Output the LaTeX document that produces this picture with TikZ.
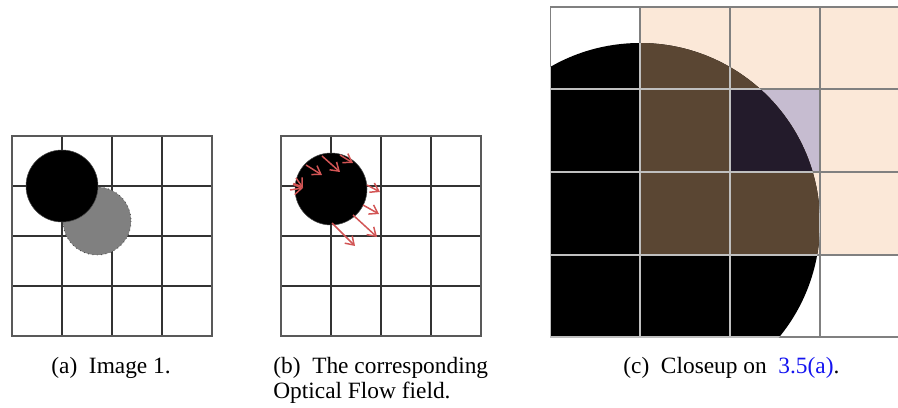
\documentclass[tikz,border=0pt]{standalone}
\usepackage{fontspec}
\setmainfont{Liberation Serif}
\usetikzlibrary{arrows.meta}

\definecolor{peach}{RGB}{251,232,216}
\definecolor{lavender}{RGB}{198,188,208}
\definecolor{umber}{RGB}{90,70,51}
\definecolor{plum}{RGB}{35,27,43}
\definecolor{flowred}{RGB}{210,85,85}
\definecolor{linkblue}{RGB}{20,20,240}

\tikzset{
  gridline/.style={draw=black!80, line width=0.8pt},
  frameline/.style={draw=black!65, line width=0.9pt},
  closeline/.style={draw=black!50, line width=0.6pt},
  closelight/.style={draw=black!25, line width=0.6pt},
  blob/.style={fill=black, draw=black!70, line width=0.3pt},
  shadow/.style={fill=black!50, draw=black!70, dotted, line width=0.5pt},
  flow/.style={-{Straight Barb[length=4.5pt,width=6pt]}, draw=flowred, line width=0.85pt},
  caption/.style={anchor=base west, align=left, inner sep=0pt,
                  font=\fontsize{13.3}{14}\selectfont},
}

\begin{document}
\begin{tikzpicture}[x=0.02cm, y=-0.02cm]
  \useasboundingbox (0,0) rectangle (898,408);

  % (a) image 1
  \foreach \k in {1,2,3} {
    \draw[gridline] (12+50*\k,136) -- (12+50*\k,336);
    \draw[gridline] (12,136+50*\k) -- (212,136+50*\k);
  }
  \draw[frameline] (12,136) rectangle (212,336);
  \fill[shadow] (97,221) circle (34);
  \fill[blob] (62,186) circle (36);

  % (b) flow field
  \foreach \k in {1,2,3} {
    \draw[gridline] (281+50*\k,136) -- (281+50*\k,336);
    \draw[gridline] (281,136+50*\k) -- (481,136+50*\k);
  }
  \draw[frameline] (281,136) rectangle (481,336);
  \fill[blob] (331,189) circle (36);
  \draw[flow] (306,165) -- (322,175);
  \draw[flow] (322,156) -- (340,172);
  \draw[flow] (340,155) -- (353,163);
  \draw[flow] (296,178) -- (303,188);
  \draw[flow] (290,190) -- (303,188);
  \draw[flow] (367,185) -- (380,192);
  \draw[flow] (363,205) -- (379,214);
  \draw[flow] (353,215) -- (377,237);
  \draw[flow] (332,223) -- (355,246);

  % (c) closeup
  \begin{scope}
    \clip (550,7) rectangle (898,337);
    \fill[peach] (640,7) rectangle (898,255);
    \fill[lavender] (730,89) rectangle (820,172);
    \fill[black] (640,223) circle (180);
    \begin{scope}
      \clip (640,7) rectangle (898,255);
      \fill[umber] (640,223) circle (180);
      \clip (730,89) rectangle (820,172);
      \fill[plum] (640,223) circle (180);
    \end{scope}
    \foreach \x in {550,640,730,820}
      \draw[closeline] (\x,7) -- (\x,337);
    \foreach \y in {7,89,172,255,337}
      \draw[closeline] (550,\y) -- (898,\y);
    % lines show light over the dark disc
    \begin{scope}
      \clip (640,223) circle (180);
      \foreach \x in {550,640,730,820}
        \draw[closelight] (\x,7) -- (\x,337);
      \foreach \y in {7,89,172,255,337}
        \draw[closelight] (550,\y) -- (898,\y);
    \end{scope}
  \end{scope}

  % captions
  \node[caption] (capa) at (51,373) {(a)\ \ Image 1.};
  \node[caption] (capb) at (273,398) {(b)\ \ The corresponding\\Optical Flow field.};
  \node[caption] (capc) at (623,373) {(c)\ \ Closeup on\ \ \textcolor{linkblue}{3.5(a)}.};
\end{tikzpicture}
\end{document}
